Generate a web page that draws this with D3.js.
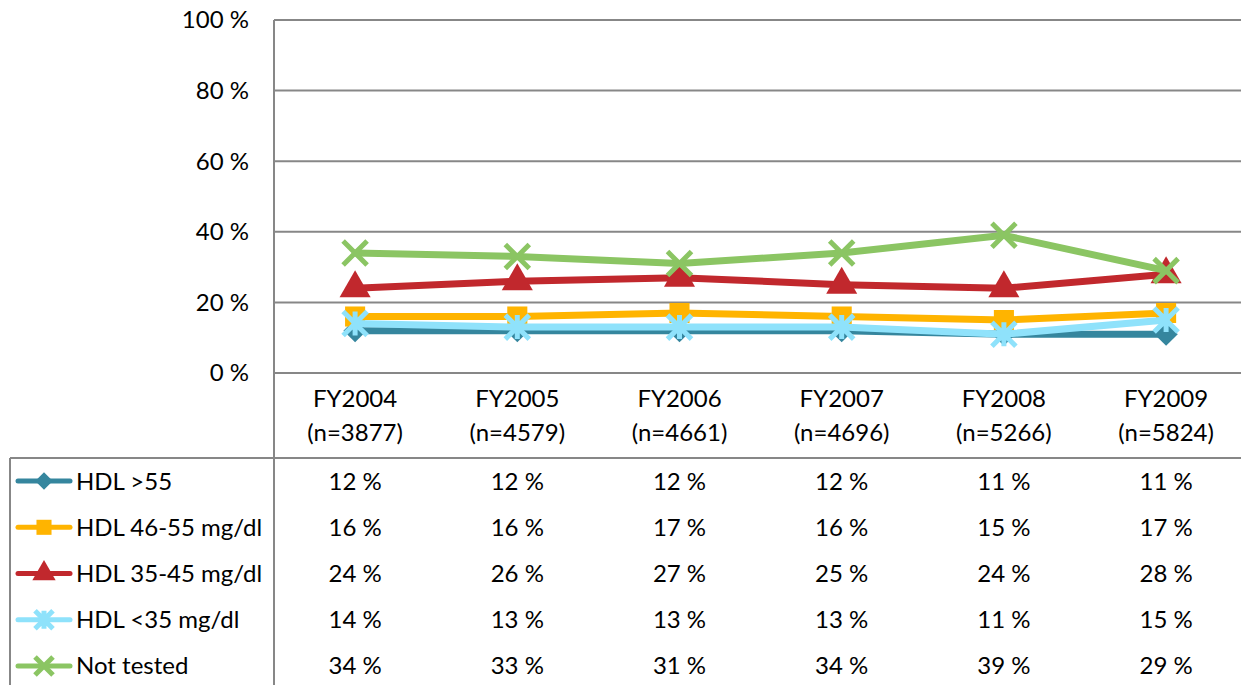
<!DOCTYPE html>
<html>
<head>
<meta charset="utf-8">
<script src="https://cdn.jsdelivr.net/npm/d3@7"></script>
<style>
  body { margin: 0; background: #fff; }
  text { font-family: Lato, "Open Sans", sans-serif; fill: #000; }
</style>
</head>
<body>
<div id="chart"></div>
<script>
var years = ["FY2004", "FY2005", "FY2006", "FY2007", "FY2008", "FY2009"];
var counts = ["(n=3877)", "(n=4579)", "(n=4661)", "(n=4696)", "(n=5266)", "(n=5824)"];
var seriesNames = ["HDL >55", "HDL 46-55 mg/dl", "HDL 35-45 mg/dl", "HDL <35 mg/dl", "Not tested"];
var hdlOver55 = [12, 12, 12, 12, 11, 11];
var hdl46to55 = [16, 16, 17, 16, 15, 17];
var hdl35to45 = [24, 26, 27, 25, 24, 28];
var hdlUnder35 = [14, 13, 13, 13, 11, 15];
var notTested = [34, 33, 31, 34, 39, 29];
var yTicks = [0, 20, 40, 60, 80, 100];

var seriesValues = [hdlOver55, hdl46to55, hdl35to45, hdlUnder35, notTested];
var colors = ["#35869e", "#ffb400", "#c1282d", "#8fe2fb", "#8bc563"];
var shapes = ["diamond", "square", "triangle", "asterisk", "cross"];

var w = 1241, h = 685;
var plotLeft = 274, plotTop = 20, plotBottom = 373;
var fontSize = 24;

var svg = d3.select("#chart").append("svg")
    .attr("width", w)
    .attr("height", h);

var x = d3.scaleBand()
    .domain(years)
    .range([plotLeft, plotLeft + 6 * 162.2]);

var y = d3.scaleLinear()
    .domain([0, 100])
    .range([plotBottom, plotTop]);

// gridlines
svg.selectAll("line.grid")
    .data(yTicks)
    .enter()
    .append("line")
    .attr("class", "grid")
    .attr("x1", plotLeft)
    .attr("x2", w)
    .attr("y1", function(d){ return y(d); })
    .attr("y2", function(d){ return y(d); })
    .attr("stroke", "#878787")
    .attr("stroke-width", 2);

svg.selectAll("text.ytick")
    .data(yTicks)
    .enter()
    .append("text")
    .attr("class", "ytick")
    .attr("x", 249)
    .attr("y", function(d){ return y(d); })
    .attr("dy", "0.35em")
    .attr("text-anchor", "end")
    .attr("font-size", fontSize)
    .text(function(d){ return d + " %"; });

// table lines
svg.append("line")
    .attr("x1", plotLeft).attr("x2", plotLeft)
    .attr("y1", plotTop).attr("y2", h)
    .attr("stroke", "#878787").attr("stroke-width", 2);

svg.append("line")
    .attr("x1", 10).attr("x2", w)
    .attr("y1", 458).attr("y2", 458)
    .attr("stroke", "#878787").attr("stroke-width", 2);

svg.append("line")
    .attr("x1", 10).attr("x2", 10)
    .attr("y1", 458).attr("y2", h)
    .attr("stroke", "#878787").attr("stroke-width", 2);

// category labels
var cat = svg.selectAll("g.cat")
    .data(years)
    .enter()
    .append("g")
    .attr("class", "cat");

cat.append("text")
    .attr("x", function(d){ return x(d) + x.bandwidth() / 2; })
    .attr("y", 407)
    .attr("text-anchor", "middle")
    .attr("font-size", fontSize)
    .text(function(d){ return d; });

cat.append("text")
    .attr("x", function(d){ return x(d) + x.bandwidth() / 2; })
    .attr("y", 441)
    .attr("text-anchor", "middle")
    .attr("font-size", fontSize)
    .text(function(d, i){ return counts[i]; });

function drawMarker(g, shape, color, s) {
    if (shape == "asterisk" || shape == "cross") {
        g.append("path")
            .attr("d", "M" + -s + "," + -s + "L" + s + "," + s + "M" + -s + "," + s + "L" + s + "," + -s +
                (shape == "asterisk" ? "M0," + -s + "L0," + s : ""))
            .attr("stroke", color)
            .attr("stroke-width", 5)
            .attr("fill", "none");
    } else if (shape == "diamond") {
        g.append("path")
            .attr("d", d3.symbol(d3.symbolSquare, s * s * 1.9)())
            .attr("transform", "rotate(45)")
            .attr("fill", color);
    } else if (shape == "square") {
        g.append("path")
            .attr("d", d3.symbol(d3.symbolSquare, s * s * 2.8)())
            .attr("fill", color);
    } else {
        g.append("path")
            .attr("d", d3.symbol(d3.symbolTriangle, s * s * 2.9)())
            .attr("fill", color);
    }
}

var line = d3.line()
    .x(function(d, i){ return x(years[i]) + x.bandwidth() / 2; })
    .y(function(d){ return y(d); });

seriesValues.forEach(function(vals, s){
    svg.append("path")
        .attr("d", line(vals))
        .attr("fill", "none")
        .attr("stroke", colors[s])
        .attr("stroke-width", 7)
        .attr("stroke-linejoin", "round")
        .attr("stroke-linecap", "round");

    vals.forEach(function(v, i){
        var g = svg.append("g")
            .attr("transform", "translate(" + (x(years[i]) + x.bandwidth() / 2) + "," + y(v) + ")");
        drawMarker(g, shapes[s], colors[s], 12);
    });
});

// data table rows
var rowY = d3.scaleBand()
    .domain(seriesNames)
    .range([458, 458 + 5 * 46.2]);

seriesNames.forEach(function(name, s){
    var cy = rowY(name) + rowY.bandwidth() / 2;
    svg.append("line")
        .attr("x1", 18).attr("x2", 70)
        .attr("y1", cy).attr("y2", cy)
        .attr("stroke", colors[s])
        .attr("stroke-width", 5)
        .attr("stroke-linecap", "round");
    var g = svg.append("g").attr("transform", "translate(44," + cy + ")");
    drawMarker(g, shapes[s], colors[s], 9);

    svg.append("text")
        .attr("x", 76)
        .attr("y", cy)
        .attr("dy", "0.35em")
        .attr("font-size", fontSize)
        .text(name);

    seriesValues[s].forEach(function(v, i){
        svg.append("text")
            .attr("x", x(years[i]) + x.bandwidth() / 2)
            .attr("y", cy)
            .attr("dy", "0.35em")
            .attr("text-anchor", "middle")
            .attr("font-size", fontSize)
            .text(v + " %");
    });
});
</script>
</body>
</html>
